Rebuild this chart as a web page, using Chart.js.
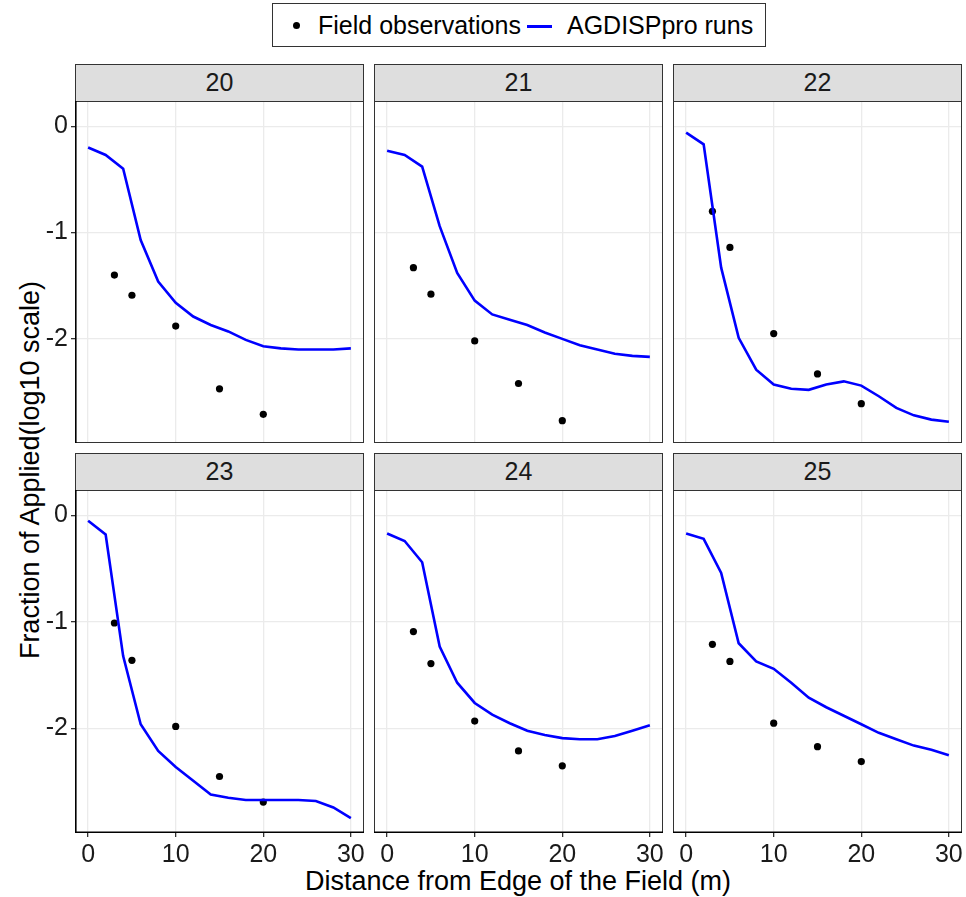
<!DOCTYPE html>
<html>
<head>
<meta charset="utf-8">
<script src="https://cdn.jsdelivr.net/npm/chart.js@4.4.1/dist/chart.umd.min.js"></script>
<style>
  body { margin: 0; background: #fff; font-family: 'Liberation Sans', Arial, sans-serif; }
  #wrap { position: relative; width: 966px; height: 897px; overflow: hidden; }
  canvas { position: absolute; }
  .strip { position: absolute; box-sizing: border-box; background: #dedede; border: 1px solid #333;
           text-align: center; font-size: 25px; color: #1a1a1a; }
  .title { position: absolute; font-size: 27px; color: #000; white-space: nowrap; }
  #legend { position: absolute; left: 272px; top: 3px; width: 494px; height: 44px; box-sizing: border-box;
            border: 1px solid #333; font-size: 25px; }
  #legend span { position: absolute; top: 7px; }
</style>
</head>
<body>
<div id="wrap">
  <div id="legend"></div>
  <div class="title" id="ytitle"></div>
  <div class="title" id="xtitle"></div>
</div>
<script>
// facet labels and legend text
const facets = ['20', '21', '22', '23', '24', '25'];
const legendLabels = ['Field observations', 'AGDISPpro runs'];
const xTitle = 'Distance from Edge of the Field (m)';
const yTitle = 'Fraction of Applied(log10 scale)';
const xTicks = [0, 10, 20, 30];
const yTicks = [0, -1, -2];

// distances of model output and field samplers
const runDist = [0, 2, 4, 6, 8, 10, 12, 14, 16, 18, 20, 22, 24, 26, 28, 30];
const obsDist = [3, 5, 10, 15, 20];

// AGDISPpro runs (log10 fraction of applied)
const run20 = [-0.20, -0.27, -0.40, -1.07, -1.46, -1.66, -1.79, -1.87, -1.93, -2.01, -2.07, -2.09, -2.10, -2.10, -2.10, -2.09];
const run21 = [-0.23, -0.27, -0.38, -0.94, -1.38, -1.64, -1.77, -1.82, -1.87, -1.94, -2.00, -2.06, -2.10, -2.14, -2.16, -2.17];
const run22 = [-0.06, -0.17, -1.33, -1.99, -2.29, -2.43, -2.47, -2.48, -2.43, -2.40, -2.44, -2.54, -2.65, -2.72, -2.76, -2.78];
const run23 = [-0.05, -0.18, -1.32, -1.96, -2.21, -2.36, -2.49, -2.62, -2.65, -2.67, -2.67, -2.67, -2.67, -2.68, -2.74, -2.84];
const run24 = [-0.17, -0.24, -0.44, -1.23, -1.57, -1.76, -1.87, -1.95, -2.02, -2.06, -2.09, -2.10, -2.10, -2.07, -2.02, -1.97];
const run25 = [-0.17, -0.22, -0.54, -1.20, -1.37, -1.44, -1.57, -1.71, -1.80, -1.88, -1.96, -2.04, -2.10, -2.16, -2.20, -2.25];

// field observations
const obs20 = [-1.40, -1.59, -1.88, -2.47, -2.71];
const obs21 = [-1.33, -1.58, -2.02, -2.42, -2.77];
const obs22 = [-0.80, -1.14, -1.95, -2.33, -2.61];
const obs23 = [-1.01, -1.36, -1.98, -2.45, -2.69];
const obs24 = [-1.09, -1.39, -1.93, -2.21, -2.35];
const obs25 = [-1.21, -1.37, -1.95, -2.17, -2.31];

const runs = [run20, run21, run22, run23, run24, run25];
const obs = [obs20, obs21, obs22, obs23, obs24, obs25];

const FONT = "'Liberation Sans', Arial, sans-serif";
const colLeft = [75, 374, 673];
const panelW = 289;
const rowTop = [101, 490];
const panelH = [342, 343];
const stripH = 37;

const wrap = document.getElementById('wrap');

// legend
const lg = document.getElementById('legend');
lg.innerHTML =
  '<span style="left:20px;top:18px;width:7px;height:7px;border-radius:50%;background:#000"></span>' +
  '<span style="left:45px">' + legendLabels[0] + '</span>' +
  '<span style="left:254px;top:21px;width:25px;height:3px;background:#0000ff"></span>' +
  '<span style="left:294px">' + legendLabels[1] + '</span>';

// axis titles
const yt = document.getElementById('ytitle');
yt.textContent = yTitle;
yt.style.left = '30px';
yt.style.top = '470px';
yt.style.transform = 'translate(-50%, -50%) rotate(-90deg)';
const xt = document.getElementById('xtitle');
xt.textContent = xTitle;
xt.style.left = '518px';
xt.style.top = '881px';
xt.style.transform = 'translate(-50%, -50%)';

// panel frame + outer axis lines
const frame = {
  id: 'frame',
  afterDraw(chart, args, opts) {
    const a = chart.chartArea, ctx = chart.ctx;
    ctx.save();
    ctx.strokeStyle = '#333';
    ctx.lineWidth = 1;
    ctx.strokeRect(a.left + 0.5, a.top + 0.5, a.right - a.left - 1, a.bottom - a.top - 1);
    ctx.strokeStyle = '#000';
    ctx.lineWidth = 1.6;
    ctx.beginPath();
    if (opts.left) { ctx.moveTo(a.left + 0.8, a.top); ctx.lineTo(a.left + 0.8, a.bottom); }
    if (opts.bottom) { ctx.moveTo(a.left, a.bottom - 0.8); ctx.lineTo(a.right, a.bottom - 0.8); }
    ctx.stroke();
    ctx.restore();
  }
};

// fixed axis size, no extra padding from overhanging labels
function fixSize(s, size) {
  if (s.isHorizontal()) s.height = size; else s.width = size;
  s.paddingTop = 0; s.paddingBottom = 0; s.paddingLeft = 0; s.paddingRight = 0;
}

facets.forEach((name, i) => {
  const r = Math.floor(i / 3), c = i % 3;
  const padL = c === 0 ? 75 : 0;
  const padB = r === 1 ? 40 : 0;

  const strip = document.createElement('div');
  strip.className = 'strip';
  strip.style.left = colLeft[c] + 'px';
  strip.style.top = (rowTop[r] - stripH) + 'px';
  strip.style.width = panelW + 'px';
  strip.style.height = (stripH + 1) + 'px';
  strip.style.lineHeight = (stripH - 2) + 'px';
  strip.textContent = name;
  wrap.appendChild(strip);

  const cv = document.createElement('canvas');
  cv.width = panelW + padL;
  cv.height = panelH[r] + padB;
  cv.style.left = (colLeft[c] - padL) + 'px';
  cv.style.top = rowTop[r] + 'px';
  wrap.appendChild(cv);

  new Chart(cv.getContext('2d'), {
    type: 'scatter',
    data: {
      datasets: [{
        label: legendLabels[1],
        data: runDist.map((d, k) => ({ x: d, y: runs[i][k] })),
        showLine: true,
        borderColor: '#0000ff',
        borderWidth: 2.6,
        pointRadius: 0,
        tension: 0
      }, {
        label: legendLabels[0],
        data: obsDist.map((d, k) => ({ x: d, y: obs[i][k] })),
        backgroundColor: '#000',
        borderWidth: 0,
        pointRadius: 3.6
      }]
    },
    options: {
      responsive: false,
      animation: false,
      devicePixelRatio: 1,
      layout: { padding: 0, autoPadding: false },
      plugins: { legend: { display: false }, tooltip: { enabled: false },
                 frame: { left: c === 0, bottom: r === 1 } },
      scales: {
        x: {
          type: 'linear', min: -1.5, max: 31.5,
          afterBuildTicks: s => { s.ticks = xTicks.map(v => ({ value: v })); },
          afterFit: s => fixSize(s, padB),
          grid: { color: '#ebebeb', lineWidth: 1.3, drawTicks: r === 1, tickLength: 4, tickColor: '#333' },
          border: { display: false },
          ticks: { display: r === 1, color: '#1a1a1a', padding: 3, maxRotation: 0,
                   font: { family: FONT, size: 25 }, callback: v => String(v) }
        },
        y: {
          type: 'linear', min: -2.98, max: 0.238,
          afterBuildTicks: s => { s.ticks = yTicks.map(v => ({ value: v })); },
          afterFit: s => fixSize(s, padL),
          grid: { color: '#ebebeb', lineWidth: 1.3, drawTicks: c === 0, tickLength: 4, tickColor: '#333' },
          border: { display: false },
          ticks: { display: c === 0, color: '#1a1a1a', padding: 3,
                   font: { family: FONT, size: 25 }, callback: v => String(v) }
        }
      }
    },
    plugins: [frame]
  });
});
</script>
</body>
</html>
